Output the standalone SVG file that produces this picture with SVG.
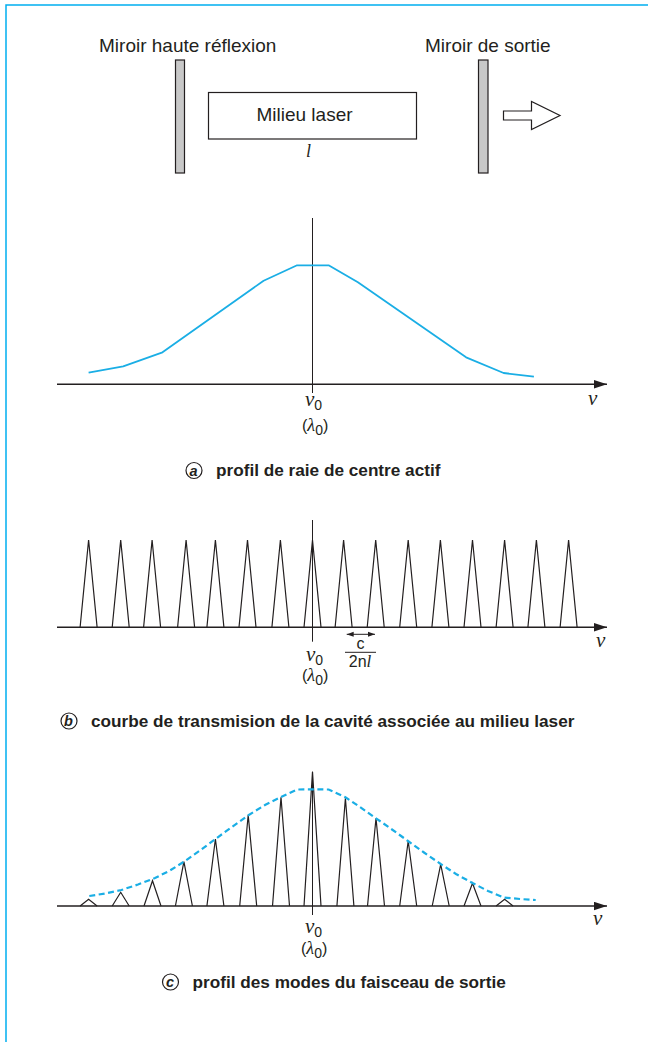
<svg xmlns="http://www.w3.org/2000/svg" width="648" height="1042" viewBox="0 0 648 1042">
<style>
.t{font-family:"Liberation Sans",Arial,sans-serif;fill:#231f20}
.lab{font-size:19px}
.cap{font-size:17.2px;font-weight:bold}
.m{font-family:"Liberation Serif","Times New Roman",serif;font-style:italic}
.sub{font-family:"Liberation Sans",Arial,sans-serif;font-size:14px}
.ax{stroke:#231f20;stroke-width:1.6;fill:none}
.thin{stroke:#231f20;stroke-width:1;fill:none}
.sp{stroke:#231f20;stroke-width:1.2;fill:none}
.blue{stroke:#1aaee5;stroke-width:1.8;fill:none;stroke-linejoin:round}
.dash{stroke:#1aaee5;stroke-width:2.2;fill:none;stroke-dasharray:6 3.5}
.mir{fill:#c8c8c8;stroke:#231f20;stroke-width:1.2}
.circ{fill:none;stroke:#231f20;stroke-width:1.2}
.cl{font-size:14.5px;font-weight:bold;font-style:italic}
</style>
<defs>
<marker id="ah" markerWidth="13" markerHeight="9" refX="13" refY="4.5" orient="auto" markerUnits="userSpaceOnUse"><path d="M0,0.3 L13,4.5 L0,8.7 Z" fill="#231f20"/></marker>
<marker id="sa" markerWidth="7" markerHeight="6" refX="7" refY="3" orient="auto-start-reverse" markerUnits="userSpaceOnUse"><path d="M0,0.5 L7,3 L0,5.5 Z" fill="#231f20"/></marker>
</defs>
<rect width="648" height="1042" fill="#fff"/>
<path d="M6,1042 V5 H648" stroke="#00aeef" stroke-width="1.5" fill="none"/>

<g id="mirror-hr">
<rect class="mir" x="175.5" y="60" width="9" height="113"/>
<text class="t lab" x="99" y="52">Miroir haute réflexion</text>
</g>
<g id="mirror-out">
<rect class="mir" x="478.5" y="60" width="9.5" height="113"/>
<text class="t lab" x="425" y="52">Miroir de sortie</text>
</g>
<g id="laser">
<rect x="208.5" y="92.5" width="208" height="46.5" fill="#fff" stroke="#231f20" stroke-width="1.2"/>
<text class="t lab" x="304.5" y="120.5" text-anchor="middle">Milieu laser</text>
<text class="t m" x="306" y="157" font-size="18">l</text>
</g>
<g id="out-arrow">
<path d="M503.5,111 H531.5 V101.5 L560,115.5 L531.5,129.5 V120 H503.5 Z" fill="#fff" stroke="#231f20" stroke-width="1.2"/>
</g>

<g id="graph-a">
<line class="ax" x1="57" y1="384.3" x2="607" y2="384.3" marker-end="url(#ah)"/>
<line class="thin" x1="312.5" y1="218" x2="312.5" y2="393"/>
<polyline class="blue" points="88.6,372.7 123.2,366.3 162.5,352.3 263.6,280.7 297.1,265.3 328.6,265.3 357.9,282.3 466.1,357.3 503.6,373 533.9,376.7"/>
<text class="t" x="305" y="406"><tspan class="m" font-size="21">ν</tspan><tspan class="sub" dy="4">0</tspan></text>
<text class="t m" x="588" y="405" font-size="21">ν</text>
<text class="t" x="302" y="431" font-size="16">(<tspan class="m" font-size="18">λ</tspan><tspan class="sub" dy="4">0</tspan><tspan dy="-4">)</tspan></text>
</g>
<g id="caption-a">
<circle class="circ" cx="194" cy="470.5" r="8"/>
<text class="t cl" x="193.5" y="475.5" text-anchor="middle">a</text>
<text class="t cap" x="216" y="476">profil de raie de centre actif</text>
</g>

<g id="graph-b">
<line class="ax" x1="57" y1="627.3" x2="607" y2="627.3" marker-end="url(#ah)"/>
<line class="thin" x1="312.5" y1="520" x2="312.5" y2="641.7"/>
<path class="sp" d="M80.1,627.3 L88.6,540 L97.1,627.3 M112.2,627.3 L120.7,540 L129.2,627.3 M143.6,627.3 L152.1,540 L160.6,627.3 M177.6,627.3 L186.1,540 L194.6,627.3 M206.9,627.3 L215.4,540 L223.9,627.3 M239,627.3 L247.5,540 L256,627.3 M271.9,627.3 L280.4,540 L288.9,627.3 M304,627.3 L312.5,540 L321,627.3 M335.1,627.3 L343.6,540 L352.1,627.3 M367.2,627.3 L375.7,540 L384.2,627.3 M399.7,627.3 L408.2,540 L416.7,627.3 M431.9,627.3 L440.4,540 L448.9,627.3 M464,627.3 L472.5,540 L481,627.3 M496.1,627.3 L504.6,540 L513.1,627.3 M527.9,627.3 L536.4,540 L544.9,627.3 M560.1,627.3 L568.6,540 L577.1,627.3"/>
<line class="thin" x1="346.7" y1="634.3" x2="375" y2="634.3" marker-start="url(#sa)" marker-end="url(#sa)"/>
<text class="t" x="360.5" y="649" font-size="16" text-anchor="middle">c</text>
<line class="thin" x1="345" y1="652.3" x2="376" y2="652.3"/>
<text class="t" x="360" y="666.5" font-size="16" text-anchor="middle">2n<tspan class="m" font-size="17">l</tspan></text>
<text class="t" x="306" y="661"><tspan class="m" font-size="21">ν</tspan><tspan class="sub" dy="4">0</tspan></text>
<text class="t m" x="596" y="647" font-size="21">ν</text>
<text class="t" x="302" y="681" font-size="16">(<tspan class="m" font-size="18">λ</tspan><tspan class="sub" dy="4">0</tspan><tspan dy="-4">)</tspan></text>
</g>
<g id="caption-b">
<circle class="circ" cx="69" cy="721" r="8"/>
<text class="t cl" x="68.5" y="726" text-anchor="middle">b</text>
<text class="t cap" x="91" y="727">courbe de transmision de la cavité associée au milieu laser</text>
</g>

<g id="graph-c">
<line class="ax" x1="57" y1="906" x2="607" y2="906" marker-end="url(#ah)"/>
<line class="thin" x1="312.5" y1="771.7" x2="312.5" y2="915"/>
<path class="sp" d="M80.1,906 L88.6,899.3 L97.1,906 M112.2,906 L120.7,892.3 L129.2,906 M144,906 L152.5,880.7 L161,906 M175.4,906 L183.9,861.7 L192.4,906 M206.9,906 L215.4,839 L223.9,906 M239.7,906 L248.2,815 L256.7,906 M272.5,906 L281,797.3 L289.5,906 M304,906 L312.5,771.7 L321,906 M336.9,906 L345.4,798.3 L353.9,906 M367.5,906 L376,818.3 L384.5,906 M399.7,906 L408.2,841 L416.7,906 M432.2,906 L440.7,864.3 L449.2,906 M464,906 L472.5,883.3 L481,906 M496.1,906 L504.6,899.3 L513.1,906"/>
<polyline class="dash" points="89.3,896 105,893.5 121.4,890 138,884.5 155,878 170,870.5 184,861.7 200,850.5 215.4,839 232,827 248,815.5 265,805 281,797 297,789.5 312,789.3 328.6,789.5 345,797 360,807 376,818.3 392,829.5 408,841 424,852.5 440.7,864 456,874 472.5,883 488,891 504,897.5 520,899 535.7,900"/>
<text class="t" x="305" y="933"><tspan class="m" font-size="21">ν</tspan><tspan class="sub" dy="4">0</tspan></text>
<text class="t m" x="593" y="925" font-size="21">ν</text>
<text class="t" x="301" y="954" font-size="16">(<tspan class="m" font-size="18">λ</tspan><tspan class="sub" dy="4">0</tspan><tspan dy="-4">)</tspan></text>
</g>
<g id="caption-c">
<circle class="circ" cx="170.5" cy="982" r="8"/>
<text class="t cl" x="170" y="987" text-anchor="middle">c</text>
<text class="t cap" x="192.5" y="988">profil des modes du faisceau de sortie</text>
</g>
</svg>
